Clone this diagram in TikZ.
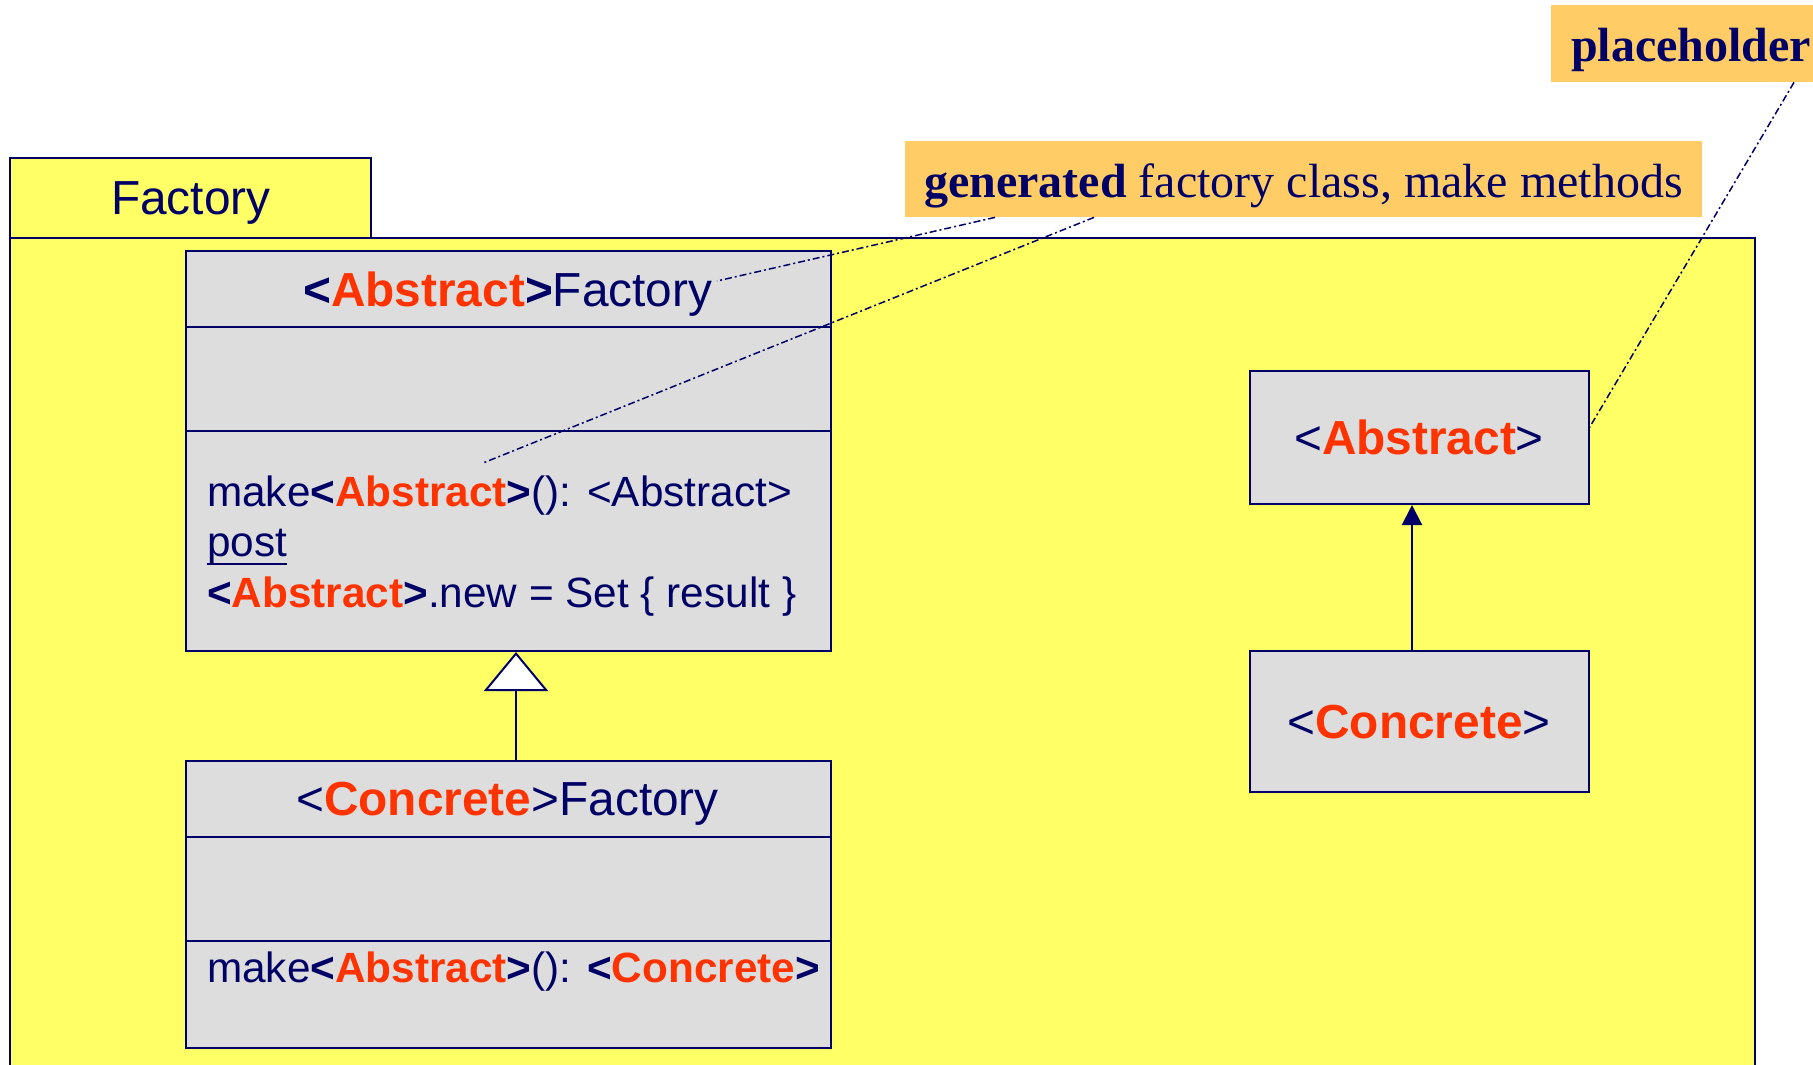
\documentclass[tikz,border=0pt]{standalone}
\usepackage{fontspec}
\setmainfont{Liberation Sans}
\newfontfamily\notefont{Liberation Serif}
\usetikzlibrary{arrows.meta}
\definecolor{pkgyellow}{HTML}{FFFF66}
\definecolor{clsgray}{HTML}{DDDDDD}
\definecolor{navy}{HTML}{000066}
\definecolor{hot}{HTML}{FF3300}
\definecolor{notebg}{HTML}{FFCC66}
\newcommand{\hotw}[1]{{\bfseries\color{hot}#1}}
\newcommand{\blt}{{\bfseries<}}
\newcommand{\bgt}{{\bfseries>}}
\begin{document}
\begin{tikzpicture}[x=1pt,y=-1pt,
  box/.style={draw=navy, line width=2pt, inner sep=0pt, anchor=north west},
  pkgbox/.style={box, fill=pkgyellow},
  clsbox/.style={box, fill=clsgray},
  ttl/.style={inner sep=0pt, text=navy, font=\fontsize{47.8pt}{57pt}\selectfont},
  mth/.style={inner sep=0pt, text=navy, font=\fontsize{42.3pt}{50.5pt}\selectfont, anchor=base west},
  notebox/.style={fill=notebg, inner sep=0pt, anchor=north west},
  notetxt/.style={inner sep=0pt, text=navy, font=\notefont\fontsize{48pt}{58pt}\selectfont, anchor=base west},
  link/.style={navy, line width=1.5pt, dash pattern=on 7pt off 3pt on 2pt off 3pt},
  divider/.style={draw=navy, line width=2pt},
  relline/.style={navy, line width=2pt}
]
\useasboundingbox (0,0) rectangle (1813,1065);
\clip (0,0) rectangle (1813,1065);

% package
\node[pkgbox, minimum width=361pt, minimum height=80pt] (tab) at (9,157) {};
\node[pkgbox, minimum width=1745pt, minimum height=900pt] (pkg) at (9,237) {};
\node[ttl, anchor=base west] (tabtxt) at (111,214) {Factory};

% abstract factory
\node[clsbox, minimum width=645pt, minimum height=400pt] (af) at (185,250) {};
\draw[divider] (185,327) -- ++(645,0);
\draw[divider] (185,431) -- ++(645,0);
\node[ttl, anchor=base west] (aft) at (303,306) {\blt\hotw{Abstract}\bgt Factory};
\node[mth] (afm1) at (207,506) {make\blt\hotw{Abstract}\bgt(): <Abstract>};
\node[mth] (afm2) at (207,556) {post};
\draw[navy, line width=2.5pt] ([yshift=1pt]afm2.south west) -- ([yshift=1pt]afm2.south east);
\node[mth] (afm3) at (207,607) {\blt\hotw{Abstract}\bgt.new = Set \{ result \}};

% concrete factory
\node[clsbox, minimum width=645pt, minimum height=287pt] (cf) at (185,760) {};
\draw[divider] (185,837) -- ++(645,0);
\draw[divider] (185,941) -- ++(645,0);
\node[ttl, anchor=base] (cft) at (507.5,815) {<\hotw{Concrete}>Factory};
\node[mth] (cfm1) at (207,982) {make\blt\hotw{Abstract}\bgt(): \blt\hotw{Concrete}\bgt};

\coordinate (gx) at (516,0);
\draw[relline, -{Triangle[length=39pt, width=64pt, fill=white]}] (cf.north -| gx) -- (af.south -| gx);

% placeholder classes
\node[clsbox, minimum width=339pt, minimum height=133pt] (abs) at (1249,370) {};
\node[clsbox, minimum width=339pt, minimum height=141pt] (conc) at (1249,650) {};
\node[ttl, anchor=base] (abst) at (1419,454) {<\hotw{Abstract}>};
\node[ttl, anchor=base] (conct) at (1419,738) {<\hotw{Concrete}>};
\coordinate (ax) at (1412,0);
\draw[relline, -{Triangle[length=20pt, width=20pt]}] (conc.north -| ax) -- (abs.south -| ax);

% notes
\node[notebox, minimum width=797pt, minimum height=76pt] (note1) at (905,141) {};
\node[notetxt] (note1t) at (924,197) {{\bfseries generated} factory class, make methods};
\node[notebox, minimum width=300pt, minimum height=77pt] (note2) at (1551,5) {};
\node[notetxt] (note2t) at (1571,62) {\bfseries placeholder};

% note links
\coordinate (l1x) at (995,0);
\coordinate (l2x) at (1094,0);
\coordinate (l3x) at (1794,0);
\coordinate (e1) at (717,281);
\coordinate (e2) at (483,463);
\coordinate (e3) at (1588,430);
\draw[link] (note1.south -| l1x) -- (e1);
\draw[link] (note1.south -| l2x) -- (e2);
\draw[link] (note2.south -| l3x) -- (e3);
\end{tikzpicture}
\end{document}
